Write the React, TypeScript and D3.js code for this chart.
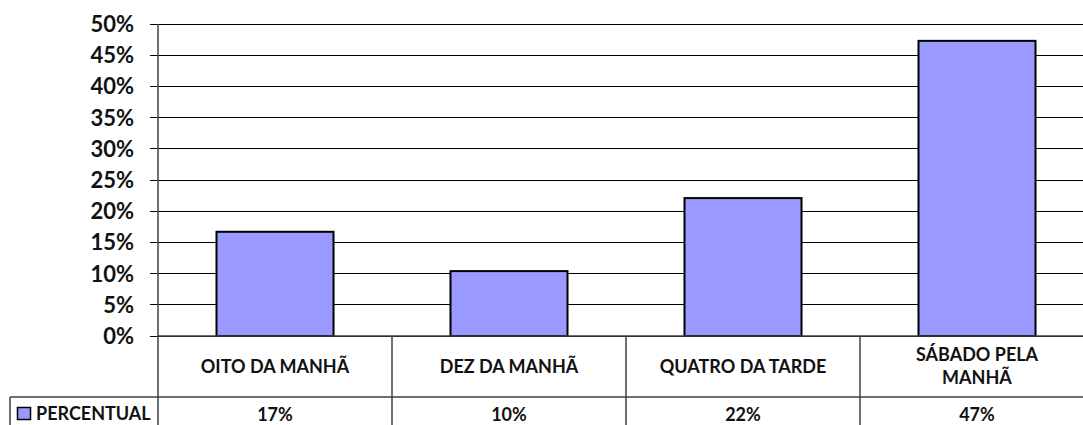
import React from 'react';
import * as d3 from 'd3';

const categories = ['OITO DA MANHÃ', 'DEZ DA MANHÃ', 'QUATRO DA TARDE', 'SÁBADO PELA MANHÃ'];
const percentual = [0.167, 0.104, 0.221, 0.473];
const yTicks = [0, 0.05, 0.1, 0.15, 0.2, 0.25, 0.3, 0.35, 0.4, 0.45, 0.5];
const seriesName = 'PERCENTUAL';

const W = 1083;
const H = 425;
const FONT = 'Lato, "Open Sans", sans-serif';
const LINE = '#404040';

const left = 158;
const right = 1094;
const top = 24;
const bottom = 336;
const rowSplit = 397;

const measureCtx = document.createElement('canvas').getContext('2d');

function wrap(text, maxWidth, font) {
  measureCtx.font = font;
  const words = text.split(' ');
  const lines = [];
  let line = '';
  words.forEach(w => {
    const test = line ? line + ' ' + w : w;
    if (line && measureCtx.measureText(test).width > maxWidth) {
      lines.push(line);
      line = w;
    } else {
      line = test;
    }
  });
  lines.push(line);
  return lines;
}

export default function App() {
  const x = d3.scaleBand().domain(categories).range([left, right]).paddingInner(0).paddingOuter(0);
  const y = d3.scaleLinear().domain([0, 0.5]).range([bottom, top]);
  const fmt = d3.format('.0%');
  const band = x.bandwidth();
  const barW = band / 2;
  const catFont = `bold 18px ${FONT}`;

  return (
    <svg
      width={W}
      height={H}
      style={{ position: 'fixed', left: 0, top: 0, background: '#fff' }}
      fontFamily={FONT}
    >
      {/* gridlines */}
      {yTicks.map(t => (
        <line key={t} x1={left - 8} x2={right} y1={y(t)} y2={y(t)} stroke="#000" strokeWidth={1} shapeRendering="crispEdges" />
      ))}
      {/* tick labels */}
      {yTicks.map(t => (
        <text key={'l' + t} x={134} y={y(t)} dy="0.36em" textAnchor="end" fontSize={22} fontWeight="bold" fill="#111">
          {fmt(t)}
        </text>
      ))}
      {/* bars */}
      {categories.map((c, i) => (
        <rect
          key={c}
          x={x(c) + (band - barW) / 2}
          y={y(percentual[i])}
          width={barW}
          height={y(0) - y(percentual[i])}
          fill="#9999FF"
          stroke="#000"
          strokeWidth={2}
        />
      ))}
      {/* y axis line */}
      <line x1={left} x2={left} y1={top} y2={H} stroke={LINE} strokeWidth={1.5} />
      {/* data table */}
      <line x1={left} x2={right} y1={bottom} y2={bottom} stroke={LINE} strokeWidth={1.5} />
      <line x1={10} x2={right} y1={rowSplit} y2={rowSplit} stroke={LINE} strokeWidth={1.5} />
      <line x1={10} x2={10} y1={rowSplit} y2={H} stroke={LINE} strokeWidth={1.5} />
      {categories.map(c => (
        <line key={'v' + c} x1={x(c) + band} x2={x(c) + band} y1={bottom} y2={H} stroke={LINE} strokeWidth={1.5} />
      ))}
      {categories.map(c => {
        const lines = wrap(c, 190, catFont);
        const cy = (bottom + rowSplit) / 2;
        return (
          <text key={'c' + c} x={x(c) + band / 2} textAnchor="middle" fontSize={18} fontWeight="bold" fill="#111">
            {lines.map((l, j) => (
              <tspan key={j} x={x(c) + band / 2} y={cy + (j - (lines.length - 1) / 2) * 23} dy="0.36em">
                {l}
              </tspan>
            ))}
          </text>
        );
      })}
      {categories.map((c, i) => (
        <text key={'p' + c} x={x(c) + band / 2} y={415} dy="0.36em" textAnchor="middle" fontSize={18} fontWeight="bold" fill="#111">
          {fmt(percentual[i])}
        </text>
      ))}
      {/* legend key */}
      <rect x={17.5} y={407.5} width={13} height={12} fill="#9999FF" stroke="#000" strokeWidth={1.5} />
      <text x={36} y={413.5} dy="0.36em" fontSize={18} fontWeight="bold" fill="#111">
        {seriesName}
      </text>
    </svg>
  );
}
